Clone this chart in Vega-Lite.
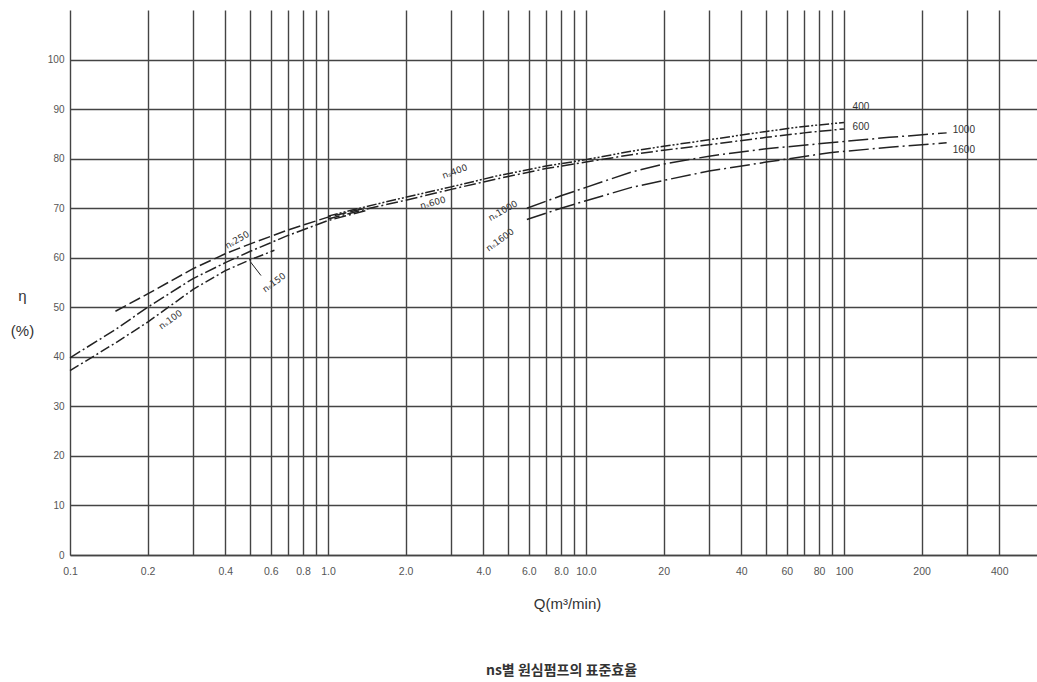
{
  "$schema": "https://vega.github.io/schema/vega-lite/v6.json",
  "width": 967,
  "height": 545,
  "autosize": {"type": "none"},
  "padding": {"left": 70, "top": 10, "right": 0, "bottom": 127},
  "background": "white",
  "config": {"view": {"stroke": null}, "font": "Liberation Sans"},
  "title": {"text": "ns별 원심펌프의 표준효율", "orient": "bottom", "offset": 52, "font": "Noto Sans CJK KR", "fontSize": 14, "fontWeight": "bold", "color": "#333", "dx": 8},
  "datasets": {
    "curves": [
      {"ns": "100", "Q": 0.1, "eta": 37.2}, {"ns": "100", "Q": 0.15, "eta": 42.8}, {"ns": "100", "Q": 0.2, "eta": 47.0}, {"ns": "100", "Q": 0.3, "eta": 53.6}, {"ns": "100", "Q": 0.4, "eta": 57.4}, {"ns": "100", "Q": 0.5, "eta": 59.6}, {"ns": "100", "Q": 0.62, "eta": 61.5},
      {"ns": "150", "Q": 0.1, "eta": 39.8}, {"ns": "150", "Q": 0.15, "eta": 45.5}, {"ns": "150", "Q": 0.2, "eta": 50.0}, {"ns": "150", "Q": 0.3, "eta": 55.8}, {"ns": "150", "Q": 0.4, "eta": 59.0}, {"ns": "150", "Q": 0.5, "eta": 61.3}, {"ns": "150", "Q": 0.7, "eta": 64.5}, {"ns": "150", "Q": 1.0, "eta": 67.5}, {"ns": "150", "Q": 1.4, "eta": 69.5},
      {"ns": "250", "Q": 0.15, "eta": 49.2}, {"ns": "250", "Q": 0.2, "eta": 52.7}, {"ns": "250", "Q": 0.3, "eta": 57.8}, {"ns": "250", "Q": 0.4, "eta": 60.8}, {"ns": "250", "Q": 0.5, "eta": 62.8}, {"ns": "250", "Q": 0.7, "eta": 65.6}, {"ns": "250", "Q": 1.0, "eta": 68.2}, {"ns": "250", "Q": 1.4, "eta": 70.0},
      {"ns": "400", "Q": 1.0, "eta": 68.4}, {"ns": "400", "Q": 1.4, "eta": 70.3}, {"ns": "400", "Q": 2, "eta": 72.2}, {"ns": "400", "Q": 3, "eta": 74.3}, {"ns": "400", "Q": 4.6, "eta": 76.6}, {"ns": "400", "Q": 7, "eta": 78.5}, {"ns": "400", "Q": 10, "eta": 79.8}, {"ns": "400", "Q": 15, "eta": 81.5}, {"ns": "400", "Q": 20, "eta": 82.5}, {"ns": "400", "Q": 30, "eta": 83.8}, {"ns": "400", "Q": 50, "eta": 85.5}, {"ns": "400", "Q": 70, "eta": 86.5}, {"ns": "400", "Q": 100, "eta": 87.3},
      {"ns": "600", "Q": 1.0, "eta": 67.8}, {"ns": "600", "Q": 1.4, "eta": 69.8}, {"ns": "600", "Q": 2, "eta": 71.6}, {"ns": "600", "Q": 3, "eta": 73.8}, {"ns": "600", "Q": 4.6, "eta": 76.0}, {"ns": "600", "Q": 7, "eta": 78.0}, {"ns": "600", "Q": 10, "eta": 79.3}, {"ns": "600", "Q": 15, "eta": 80.8}, {"ns": "600", "Q": 20, "eta": 81.7}, {"ns": "600", "Q": 30, "eta": 82.8}, {"ns": "600", "Q": 50, "eta": 84.3}, {"ns": "600", "Q": 70, "eta": 85.2}, {"ns": "600", "Q": 100, "eta": 86.0},
      {"ns": "1000", "Q": 5.9, "eta": 70.0}, {"ns": "1000", "Q": 8, "eta": 72.5}, {"ns": "1000", "Q": 10, "eta": 74.2}, {"ns": "1000", "Q": 15, "eta": 77.3}, {"ns": "1000", "Q": 20, "eta": 78.9}, {"ns": "1000", "Q": 30, "eta": 80.5}, {"ns": "1000", "Q": 50, "eta": 82.0}, {"ns": "1000", "Q": 88, "eta": 83.2}, {"ns": "1000", "Q": 150, "eta": 84.3}, {"ns": "1000", "Q": 250, "eta": 85.2},
      {"ns": "1600", "Q": 5.9, "eta": 67.7}, {"ns": "1600", "Q": 8, "eta": 70.0}, {"ns": "1600", "Q": 10, "eta": 71.5}, {"ns": "1600", "Q": 15, "eta": 74.2}, {"ns": "1600", "Q": 20, "eta": 75.6}, {"ns": "1600", "Q": 30, "eta": 77.5}, {"ns": "1600", "Q": 50, "eta": 79.3}, {"ns": "1600", "Q": 88, "eta": 81.2}, {"ns": "1600", "Q": 150, "eta": 82.3}, {"ns": "1600", "Q": 250, "eta": 83.2}
    ],
    "leader": [
      {"Q": 0.5, "eta": 59.2}, {"Q": 0.55, "eta": 56.4}
    ],
    "curveLabels": [
      {"group": "a", "label": "nₛ250", "Q": 0.444, "eta": 63.6},
      {"group": "a", "label": "nₛ1000", "Q": 4.76, "eta": 69.5},
      {"group": "e", "label": "nₛ100", "Q": 0.245, "eta": 47.5},
      {"group": "e", "label": "nₛ150", "Q": 0.618, "eta": 55.0},
      {"group": "e", "label": "nₛ1600", "Q": 4.64, "eta": 63.6},
      {"group": "c", "label": "nₛ400", "Q": 3.1, "eta": 77.4},
      {"group": "d", "label": "nₛ600", "Q": 2.55, "eta": 71.1}
    ],
    "endLabels": [
      {"label": "400", "Q": 108, "eta": 90.5},
      {"label": "600", "Q": 108, "eta": 86.3},
      {"label": "1000", "Q": 264, "eta": 85.7},
      {"label": "1600", "Q": 264, "eta": 81.8}
    ]
  },
  "encoding": {
    "x": {
      "field": "Q", "type": "quantitative",
      "scale": {"type": "log", "domain": [0.1, 560]},
      "axis": {
        "title": "Q(m³/min)",
        "values": [0.1, 0.2, 0.3, 0.4, 0.5, 0.6, 0.7, 0.8, 0.9, 1, 2, 3, 4, 5, 6, 7, 8, 9, 10, 20, 30, 40, 50, 60, 70, 80, 90, 100, 200, 300, 400],
        "labelExpr": "indexof([0.1,0.2,0.4,0.6,0.8,1,2,4,6,8,10,20,40,60,80,100,200,400], datum.value) >= 0 ? (datum.value <= 10 ? format(datum.value, '.1f') : format(datum.value, 'd')) : ''",
        "grid": true, "gridColor": "#444", "gridWidth": 1.4, "gridOpacity": 1,
        "domain": true, "domainColor": "#444", "domainWidth": 1.4,
        "ticks": false, "labelPadding": 11, "labelFontSize": 10.5, "labelColor": "#555", "labelFlush": false, "labelOverlap": false,
        "titleFontSize": 15, "titleFontWeight": "normal", "titleColor": "#333", "titlePadding": 20, "titleX": 497
      }
    },
    "y": {
      "field": "eta", "type": "quantitative",
      "scale": {"domain": [0, 110], "nice": false},
      "axis": {
        "title": ["η", "(%)"],
        "values": [0, 10, 20, 30, 40, 50, 60, 70, 80, 90, 100],
        "grid": true, "gridColor": "#444", "gridWidth": 1.4, "gridOpacity": 1,
        "domain": false, "ticks": false, "labelPadding": 6, "labelFontSize": 10, "labelColor": "#555",
        "titleAngle": 0, "titleX": -48, "titleY": 285, "titleAlign": "center", "titleBaseline": "middle", "titleLineHeight": 35,
        "titleFontSize": 15, "titleFontWeight": "normal", "titleColor": "#333"
      }
    }
  },
  "layer": [
    {
      "data": {"name": "curves"},
      "mark": {"type": "line", "color": "#222", "strokeWidth": 1.5},
      "encoding": {
        "strokeDash": {
          "field": "ns", "type": "nominal",
          "scale": {"domain": ["100", "150", "250", "400", "600", "1000", "1600"],
                    "range": [[10, 3, 2, 3], [12, 3, 2, 3], [12, 4], [10, 2, 2, 2, 2, 2], [12, 3, 2, 3], [20, 4, 2, 4], [20, 4, 2, 4]]},
          "legend": null
        }
      }
    },
    {
      "data": {"name": "leader"},
      "mark": {"type": "line", "color": "#222", "strokeWidth": 1},
      "encoding": {}
    },
    {
      "data": {"name": "curveLabels"},
      "transform": [{"filter": "datum.group == 'a'"}],
      "mark": {"type": "text", "angle": -30, "fontSize": 9, "color": "#333", "font": "DejaVu Sans"},
      "encoding": {"text": {"field": "label"}}
    },
    {
      "data": {"name": "curveLabels"},
      "transform": [{"filter": "datum.group == 'e'"}],
      "mark": {"type": "text", "angle": -36, "fontSize": 9, "color": "#333", "font": "DejaVu Sans"},
      "encoding": {"text": {"field": "label"}}
    },
    {
      "data": {"name": "curveLabels"},
      "transform": [{"filter": "datum.group == 'c'"}],
      "mark": {"type": "text", "angle": -20, "fontSize": 9, "color": "#333", "font": "DejaVu Sans"},
      "encoding": {"text": {"field": "label"}}
    },
    {
      "data": {"name": "curveLabels"},
      "transform": [{"filter": "datum.group == 'd'"}],
      "mark": {"type": "text", "angle": -15, "fontSize": 9, "color": "#333", "font": "DejaVu Sans"},
      "encoding": {"text": {"field": "label"}}
    },
    {
      "data": {"name": "endLabels"},
      "mark": {"type": "text", "align": "left", "baseline": "middle", "fontSize": 10, "color": "#333"},
      "encoding": {"text": {"field": "label"}}
    }
  ]
}
